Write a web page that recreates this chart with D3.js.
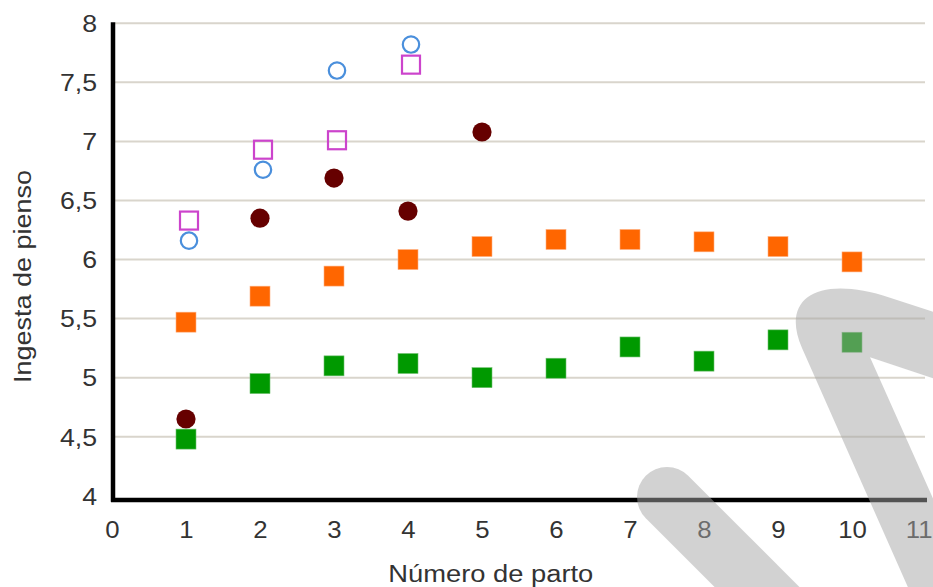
<!DOCTYPE html>
<html>
<head>
<meta charset="utf-8">
<script src="https://cdn.jsdelivr.net/npm/d3@7"></script>
<style>
  html, body { margin: 0; padding: 0; background: #fff; }
  svg { display: block; }
  text { font-family: "Liberation Sans", Arial, sans-serif; fill: #333; }
</style>
</head>
<body>
<script>
// Feed intake by calving number, five groups
const partos = [1, 2, 3, 4, 5, 6, 7, 8, 9, 10];
const serieVerde   = [4.48, 4.95, 5.10, 5.12, 5.00, 5.08, 5.26, 5.14, 5.32, 5.30];
const serieNaranja = [5.47, 5.69, 5.86, 6.00, 6.11, 6.17, 6.17, 6.15, 6.11, 5.98];
const serieGranate = [4.65, 6.35, 6.69, 6.41, 7.08];
const serieAzul    = [6.16, 6.76, 7.60, 7.82];
const serieMagenta = [6.33, 6.93, 7.01, 7.65];

const xTicks = [0, 1, 2, 3, 4, 5, 6, 7, 8, 9, 10, 11];
const yTicks = [4, 4.5, 5, 5.5, 6, 6.5, 7, 7.5, 8];
const xTitle = "Número de parto";
const yTitle = "Ingesta de pienso";

const W = 933, H = 587;
const svg = d3.select("body").append("svg").attr("width", W).attr("height", H);

const x = d3.scaleLinear().domain([0, 11]).range([112, 926]);
const y = d3.scaleLinear().domain([4, 8]).range([495.8, 23.3]);
const fmt = v => String(v).replace(".", ",");

// slightly wide lettering for the tick labels
function widen(sel, k) {
  sel.each(function () {
    const len = this.getComputedTextLength();
    d3.select(this).attr("textLength", len * k).attr("lengthAdjust", "spacingAndGlyphs");
  });
}

// horizontal gridlines
svg.append("g")
  .selectAll("line")
  .data(yTicks.filter(v => v > 4))
  .join("line")
  .attr("x1", x(0) + 3).attr("x2", x(11) - 1)
  .attr("y1", d => y(d)).attr("y2", d => y(d))
  .attr("stroke", "#d9d5cc").attr("stroke-width", 2);

// y axis (labels only, line drawn separately)
const yAxis = svg.append("g")
  .attr("transform", `translate(${x(0) - 15},0)`)
  .call(d3.axisLeft(y).tickValues(yTicks).tickSize(0).tickPadding(0).tickFormat(fmt));
yAxis.select(".domain").remove();
yAxis.selectAll("text")
  .attr("font-size", 23).attr("fill", "#333")
  .attr("font-family", "Liberation Sans, Arial, sans-serif")
  .attr("dy", "0.36em")
  .call(widen, 1.16);

// x axis labels
const xAxis = svg.append("g")
  .attr("transform", `translate(0,${y(4) + 26})`)
  .call(d3.axisBottom(x).tickValues(xTicks).tickSize(0).tickPadding(0).tickFormat(d3.format("d")));
xAxis.select(".domain").remove();
xAxis.selectAll("text")
  .attr("font-size", 23).attr("fill", "#333")
  .attr("font-family", "Liberation Sans, Arial, sans-serif")
  .attr("dy", "0.71em")
  .call(widen, 1.12);
// the last label sits against the right edge of the frame
xAxis.selectAll(".tick").filter(d => d === 11).select("text")
  .attr("text-anchor", "end").attr("x", W - x(11) - 1);

// axis lines
svg.append("line")
  .attr("x1", x(0) + 1).attr("x2", x(0) + 1)
  .attr("y1", y(8) - 1).attr("y2", y(4) + 6)
  .attr("stroke", "#000").attr("stroke-width", 4.5);
svg.append("line")
  .attr("x1", x(0) - 1).attr("x2", x(11) + 1)
  .attr("y1", y(4) + 4.3).attr("y2", y(4) + 4.3)
  .attr("stroke", "#000").attr("stroke-width", 4.5);

// axis titles
svg.append("text")
  .attr("x", 490.8).attr("y", 581.5)
  .attr("text-anchor", "middle")
  .attr("font-size", 23)
  .attr("textLength", 205).attr("lengthAdjust", "spacingAndGlyphs")
  .text(xTitle);
svg.append("text")
  .attr("transform", "translate(30.5,276.5) rotate(-90)")
  .attr("text-anchor", "middle")
  .attr("font-size", 23)
  .attr("textLength", 213).attr("lengthAdjust", "spacingAndGlyphs")
  .text(yTitle);

// series
const pts = vals => vals.map((v, i) => ({ px: partos[i], v }));
const S = 20;

svg.append("g").selectAll("circle")
  .data(pts(serieGranate)).join("circle")
  .attr("cx", d => x(d.px)).attr("cy", d => y(d.v)).attr("r", 9.6)
  .attr("fill", "#660000");

svg.append("g").selectAll("circle")
  .data(pts(serieAzul)).join("circle")
  .attr("cx", d => x(d.px) + 3).attr("cy", d => y(d.v)).attr("r", 8.2)
  .attr("fill", "none").attr("stroke", "#4a8fdc").attr("stroke-width", 2.2);

svg.append("g").selectAll("rect")
  .data(pts(serieMagenta)).join("rect")
  .attr("x", d => x(d.px) + 3 - 9).attr("y", d => y(d.v) - 9)
  .attr("width", 18).attr("height", 18)
  .attr("fill", "none").attr("stroke", "#cc44cc").attr("stroke-width", 2.2);

svg.append("g").selectAll("rect")
  .data(pts(serieNaranja)).join("rect")
  .attr("x", d => x(d.px) - S / 2).attr("y", d => y(d.v) - S / 2)
  .attr("width", S).attr("height", S)
  .attr("fill", "#ff6600").attr("stroke", "#ffb080").attr("stroke-width", 0.6);

svg.append("g").selectAll("rect")
  .data(pts(serieVerde)).join("rect")
  .attr("x", d => x(d.px) - S / 2).attr("y", d => y(d.v) - S / 2)
  .attr("width", S).attr("height", S)
  .attr("fill", "#009900").attr("stroke", "#70c070").attr("stroke-width", 0.6);

// translucent grey brush strokes laid over the chart
const mark = svg.append("g").attr("opacity", 0.5);
mark.append("path")
  .attr("d", "M667,497 L827,657")
  .attr("stroke", "#a6a6a6").attr("stroke-width", 60)
  .attr("stroke-linecap", "round").attr("fill", "none");
mark.append("path")
  .attr("d", "M1000,333.5 L890,297.7 C819.3,274.4 779.7,297.2 802,348 L957.9,700 L1023,700 L870,357.3 L1000,400.6 Z")
  .attr("fill", "#a6a6a6");
</script>
</body>
</html>
